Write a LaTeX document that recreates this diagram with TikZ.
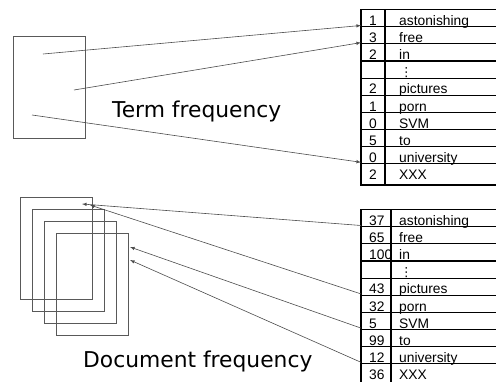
\documentclass[tikz,border=0pt]{standalone}
\usepackage{fontspec}
\newfontfamily\tabfont{Liberation Sans}
\newfontfamily\bigfont{DejaVu Sans}
\newcommand\rowdots{\hspace{1pt}{\bigfont\fontsize{12.5}{14}\selectfont ⋮}}
\tikzset{
  docpage/.style={draw=black!65, line width=.6pt},
  link/.style={->, draw=black!70, line width=.6pt},
  tabline/.style={line width=1.1pt},
  cell/.style={anchor=base west, inner sep=0pt, font=\tabfont\fontsize{13.8}{16}\selectfont},
  caption/.style={anchor=base west, inner sep=0pt, font=\bigfont\fontsize{21.8}{26}\selectfont}
}
\begin{document}
\begin{tikzpicture}[>=latex, x=1pt, y=-1pt]
\clip (0,0) rectangle (496,381);

% term frequency: one document
\draw[docpage] (13,36) rectangle (85,138);
\coordinate (w1) at (43,54);
\coordinate (w2) at (74,90);
\coordinate (w3) at (32,115);
\node[caption] (tfcap) at (112,117) {Term frequency};

\draw[tabline] (361,9.5) rectangle (510,185);
\draw[tabline] (385,9.5) -- (385,185);
\foreach \n/\w [count=\k] in {1/astonishing,3/free,2/in,{}/\rowdots,2/pictures,1/porn,0/SVM,5/to,0/university,2/XXX}{
  \pgfmathsetmacro\yb{25.5+17.1*(\k-1)}
  \node[cell] (tfn\k) at (369,\yb) {\n};
  \node[cell] (tfw\k) at (399,\yb) {\w};
  \coordinate (tf\k) at (361,\yb);
  \ifnum\k<10 \draw[tabline] (361,\yb+1.3) -- (510,\yb+1.3); \fi
}

\draw[link] (w1) -- (tf1);
\draw[link] (w2) -- (tf2);
\draw[link] (w3) -- (tf9);

% document frequency: a stack of documents
\foreach \i in {0,...,3}
  \draw[docpage] (20.7+11.8*\i,197.3+12*\i) rectangle ++(72,102);
\coordinate (dp1) at (82,204);
\coordinate (dp2) at (90,205);
\coordinate (dp3) at (130,247);
\coordinate (dp4) at (130,260);
\node[caption] (dfcap) at (83,367) {Document frequency};

\draw[tabline] (361,209.5) rectangle (510,385);
\draw[tabline] (391,209.5) -- (391,385);
\foreach \n/\w [count=\k] in {37/astonishing,65/free,100/in,{}/\rowdots,43/pictures,32/porn,5/SVM,99/to,12/university,36/XXX}{
  \pgfmathsetmacro\yb{225.5+17.1*(\k-1)}
  \node[cell] (dfn\k) at (369,\yb) {\n};
  \node[cell] (dfw\k) at (399,\yb) {\w};
  \coordinate (df\k) at (361,\yb);
  \ifnum\k<10 \draw[tabline] (361,\yb+1.3) -- (510,\yb+1.3); \fi
}

\draw[link] (df1) -- (dp1);
\draw[link] (df5) -- (dp2);
\draw[link] (df7) -- (dp3);
\draw[link] (df9) -- (dp4);
\end{tikzpicture}
\end{document}
